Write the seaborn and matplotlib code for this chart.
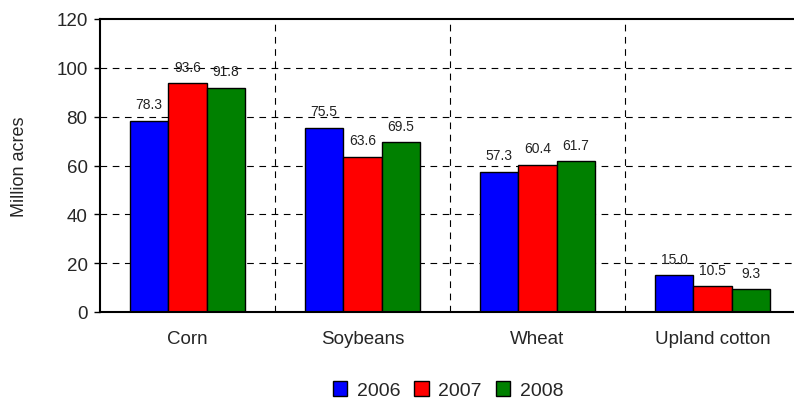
import matplotlib
matplotlib.use("Agg")
import matplotlib.pyplot as plt
import seaborn as sns
import pandas as pd
import numpy as np

categories = ["Corn", "Soybeans", "Wheat", "Upland cotton"]
years = ["2006", "2007", "2008"]
v2006 = [78.3, 75.5, 57.3, 15.0]
v2007 = [93.6, 63.6, 60.4, 10.5]
v2008 = [91.8, 69.5, 61.7, 9.3]
colors = ["#0000FF", "#FF0000", "#008000"]
yticks = [0, 20, 40, 60, 80, 100, 120]

rows = []
for y, vals in zip(years, [v2006, v2007, v2008]):
    for c, v in zip(categories, vals):
        rows.append({"crop": c, "year": y, "value": v})
df = pd.DataFrame(rows)

sns.set_theme(style="white")
plt.rcParams['font.family'] = ['Liberation Sans', 'DejaVu Sans']

fig = plt.figure(figsize=(7.94, 4.02), dpi=100)
ax = fig.add_axes([100/794, 1-313/402, 700/794, (313-20)/402])

sns.barplot(data=df, x="crop", y="value", hue="year", order=categories,
            hue_order=years, palette=colors, width=0.66, saturation=1,
            edgecolor="black", linewidth=1, ax=ax, legend=True)

for cont in ax.containers:
    ax.bar_label(cont, fmt="%.1f", padding=7, fontsize=10, color="#222222")

ax.set_ylim(0, 120)
ax.set_xlim(-0.5, 3.5)
ax.set_yticks(yticks)
ax.set_yticklabels([str(t) for t in yticks], fontsize=13.5)
ax.tick_params(axis='y', which='major', length=4, width=1, color='black', left=True, direction='out', pad=5)
ax.tick_params(axis='x', which='both', length=0, labelsize=13.5, pad=13)
ax.set_xlabel("")
ax.set_ylabel("Million acres", fontsize=13, labelpad=20)

ax.grid(False)
for t in yticks[1:-1]:
    ax.axhline(t, color="black", linestyle=(0, (6, 5)), linewidth=0.8, zorder=0)
for b in [0.5, 1.5, 2.5]:
    ax.axvline(b, color="black", linestyle=(0, (6, 5)), linewidth=0.8, zorder=0)
ax.set_axisbelow(True)

for s in ["left", "bottom", "top"]:
    ax.spines[s].set_visible(True)
    ax.spines[s].set_color("black")
    ax.spines[s].set_linewidth(1.5)
ax.spines["right"].set_visible(False)

leg = ax.legend(loc="upper center", bbox_to_anchor=(0.5 - 2/700, -0.19), ncol=3, frameon=False,
                fontsize=14, handlelength=0.75, handleheight=0.75, handletextpad=0.5,
                columnspacing=0.7, borderpad=0.2)
for h in leg.legend_handles:
    h.set_edgecolor("black")
    h.set_linewidth(1)

fig.savefig("out.png", dpi=100)
